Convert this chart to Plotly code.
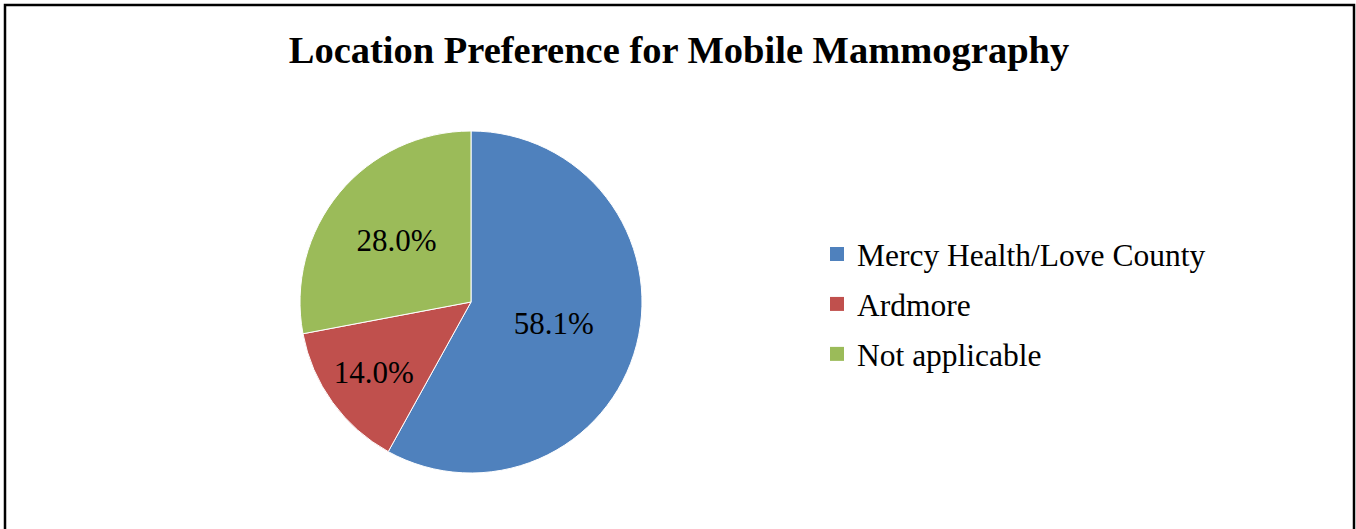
import plotly.graph_objects as go

W, H = 1356, 529

title = "Location Preference for Mobile Mammography"
categories = ["Mercy Health/Love County", "Ardmore", "Not applicable"]
percentages = [58.1, 14.0, 28.0]
colors = ["#4F81BD", "#C0504D", "#9BBB59"]

FONT = "Liberation Serif, Times New Roman, serif"

cx, cy, r = 471, 302, 171

fig = go.Figure()
fig.add_trace(go.Pie(
    labels=categories,
    values=percentages,
    sort=False,
    direction="clockwise",
    rotation=0,
    marker=dict(colors=colors, line=dict(color="white", width=1)),
    texttemplate="%{value:.1f}%",
    textposition="inside",
    insidetextorientation="horizontal",
    textfont=dict(family=FONT, size=31, color="black"),
    hoverinfo="label+percent",
    showlegend=False,
    domain=dict(x=[(cx - r) / W, (cx + r) / W], y=[1 - (cy + r) / H, 1 - (cy - r) / H]),
))

# legend entries (one group per category so the row spacing can be set)
for name, col in zip(categories, colors):
    fig.add_trace(go.Scatter(
        x=[None], y=[None], mode="markers", name=name, legendgroup=name,
        marker=dict(symbol="square", size=14, color=col),
        showlegend=True, hoverinfo="skip",
    ))

fig.update_layout(
    width=W, height=H,
    margin=dict(l=0, r=0, t=0, b=0),
    paper_bgcolor="white",
    plot_bgcolor="white",
    xaxis=dict(visible=False),
    yaxis=dict(visible=False),
    title=dict(text="<b>" + title + "</b>", x=679 / W, xanchor="center",
               y=1 - 50 / H, yanchor="middle",
               font=dict(family=FONT, size=38.5, color="black")),
    showlegend=True,
    legend=dict(x=817 / W, y=1 - 304 / H, xanchor="left", yanchor="middle",
                itemwidth=30, tracegroupgap=6, traceorder="grouped",
                font=dict(family=FONT, size=31.5, color="black"),
                bgcolor="rgba(0,0,0,0)", itemclick=False, itemdoubleclick=False),
    shapes=[
        dict(type="rect", xref="paper", yref="paper",
             x0=5 / W, x1=1354 / W, y0=-0.05, y1=1 - 5 / H,
             line=dict(color="black", width=2.5), fillcolor="rgba(0,0,0,0)"),
    ],
)

fig.write_html("out.html", config={"displayModeBar": False},
               post_script="document.body.style.margin='0';")
